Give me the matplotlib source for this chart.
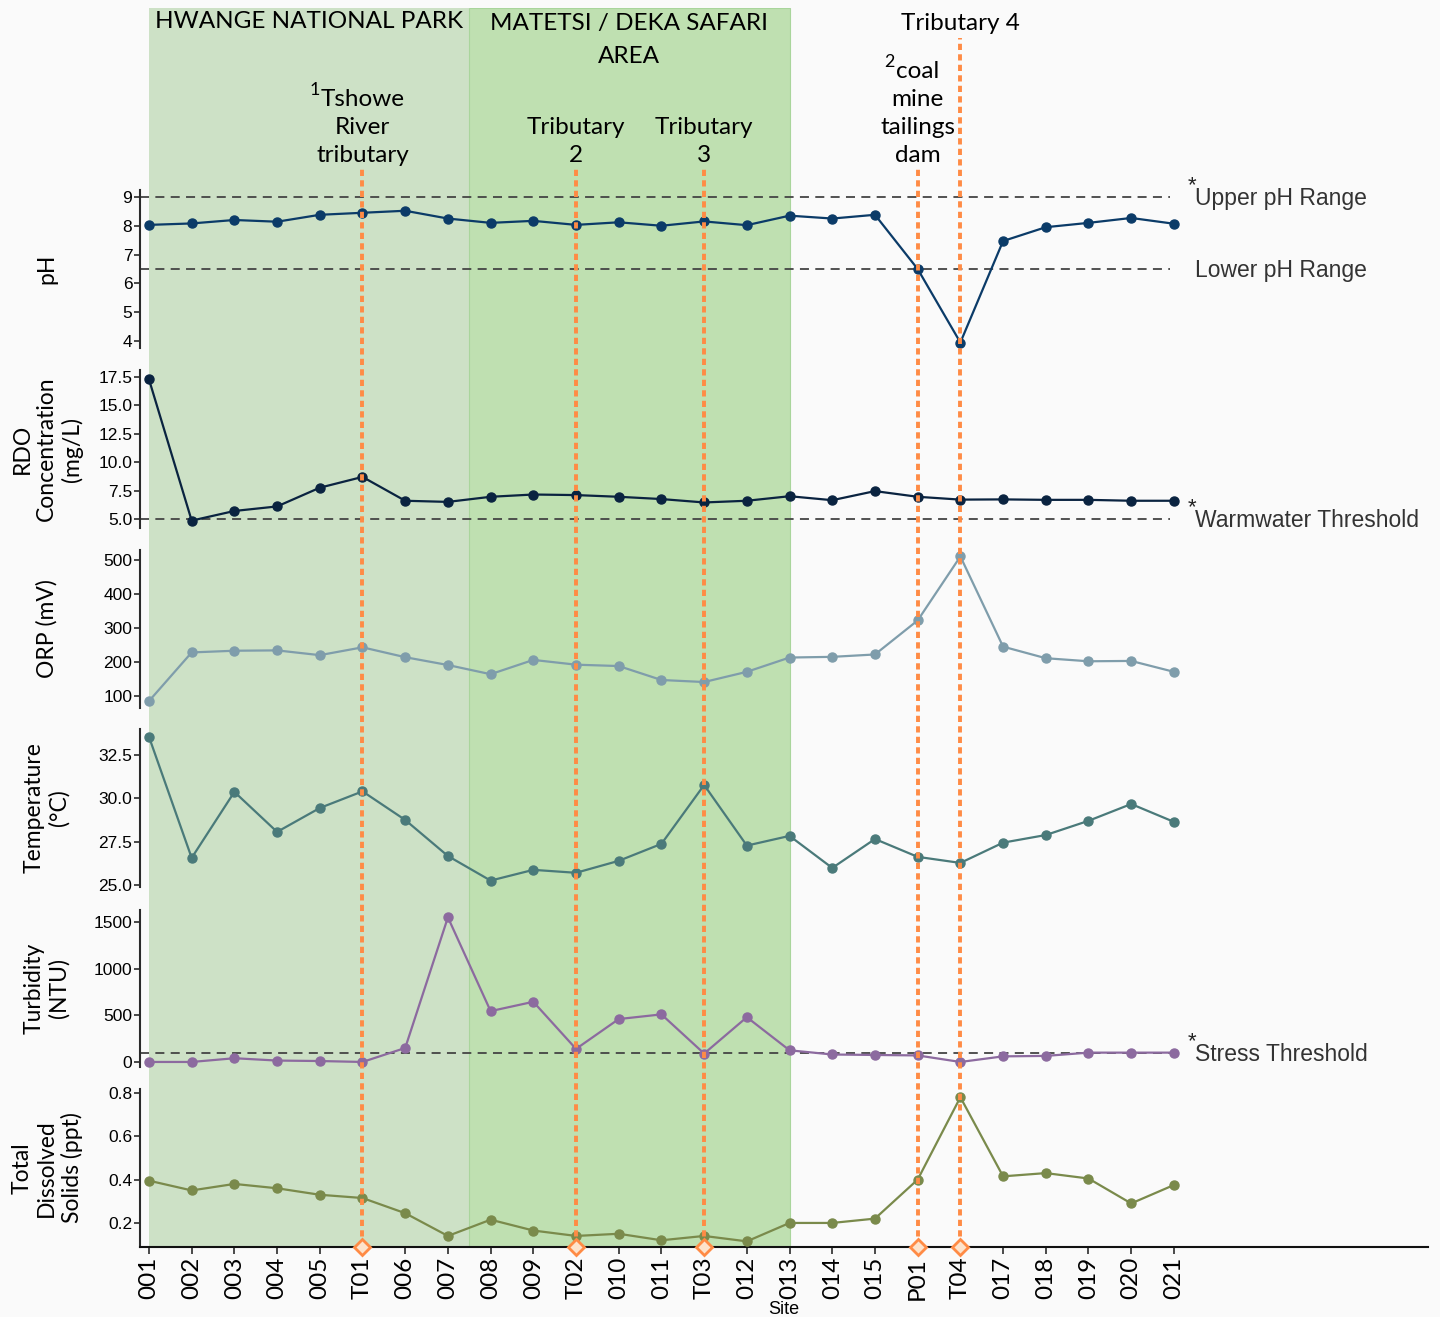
import matplotlib
matplotlib.use("Agg")
import matplotlib.pyplot as plt
import matplotlib.transforms as mtransforms

# ---- data -----------------------------------------------------------------
sites = ["001", "002", "003", "004", "005", "T01", "006", "007", "008", "009",
         "T02", "010", "011", "T03", "012", "013", "014", "015", "P01", "T04",
         "017", "018", "019", "020", "021"]

ph = [8.03, 8.08, 8.2, 8.14, 8.38, 8.45, 8.52, 8.25, 8.1, 8.17,
      8.03, 8.12, 8.0, 8.15, 8.02, 8.35, 8.25, 8.38, 6.5, 3.95,
      7.47, 7.95, 8.1, 8.27, 8.07]
rdo = [17.3, 4.85, 5.7, 6.1, 7.75, 8.7, 6.6, 6.5, 6.95, 7.15,
       7.1, 6.95, 6.75, 6.45, 6.6, 7.0, 6.65, 7.45, 6.95, 6.7,
       6.72, 6.68, 6.68, 6.6, 6.6]
orp = [85, 228, 233, 234, 220, 243, 214, 191, 164, 206,
       192, 188, 147, 141, 171, 213, 215, 222, 322, 510,
       245, 211, 202, 203, 171]
temp = [33.55, 26.56, 30.37, 28.06, 29.44, 30.4, 28.75, 26.67, 25.25, 25.87,
        25.7, 26.39, 27.37, 30.77, 27.27, 27.83, 25.98, 27.65, 26.62, 26.27,
        27.44, 27.88, 28.7, 29.67, 28.64]
turbidity = [0, 0, 40, 15, 10, 0, 150, 1550, 545, 645,
             140, 460, 510, 90, 480, 125, 80, 75, 70, 0,
             60, 65, 100, 100, 100]
tds = [0.395, 0.35, 0.38, 0.36, 0.33, 0.315, 0.245, 0.14, 0.215, 0.165,
       0.14, 0.15, 0.12, 0.14, 0.115, 0.2, 0.2, 0.22, 0.4, 0.78,
       0.415, 0.43, 0.405, 0.29, 0.375]

ph_limits = [9, 6.5]
rdo_limit = 5.0
turbidity_limit = 100

# tributaries / inputs marked with vertical lines
marked_sites = ["T01", "T02", "T03", "P01", "T04"]
site_notes = {"T01": ["Tshowe", "River", "tributary"],
              "T02": ["Tributary", "2"],
              "T03": ["Tributary", "3"],
              "P01": ["coal", "mine", "tailings", "dam"],
              "T04": ["Tributary 4"]}
note_refs = {"T01": "1", "P01": "2"}

# ---- styling ----------------------------------------------------------------
BG = "#fafafa"
ORANGE = "#ff8b45"
DARK = "#2b2b2b"
HEAD_FONT = ["Lato", "DejaVu Sans"]
TICK_FONT = ["Liberation Sans", "DejaVu Sans"]

W, H = 1440, 1317
fig = plt.figure(figsize=(W / 100, H / 100), dpi=100, facecolor=BG)

x = list(range(len(sites)))
XLIM = (-0.21, 29.95)
LEFT, RIGHT = 140, 1428


def fy(pix):
    return 1 - pix / H


def rect(top, bottom):
    return [LEFT / W, fy(bottom), (RIGHT - LEFT) / W, (bottom - top) / H]


# background with the two shaded park areas
bg = fig.add_axes(rect(8, 1247))
bg.set_xlim(XLIM)
bg.set_ylim(0, 1)
bg.axis("off")
bg.axvspan(0, 7.5, color="#cde1c6", lw=0)
bg.axvspan(7.5, 15, facecolor="#bfe0b1", edgecolor="#a9d59c", lw=0.8)

panels = [
    (ph, "#0b3b68", "pH", (3.76, 9.24), [4, 5, 6, 7, 8, 9], "{:.0f}", 190, 348),
    (rdo, "#0a2340", "RDO\nConcentration\n(mg/L)", (4.2, 18.12),
     [5, 7.5, 10, 12.5, 15, 17.5], "{:.1f}", 370, 528),
    (orp, "#7f9dab", "ORP (mV)", (64.7, 529), [100, 200, 300, 400, 500], "{:.0f}", 550, 708),
    (temp, "#4a7a7a", "Temperature\n(°C)", (24.88, 34.0), [25, 27.5, 30, 32.5], "{:.1f}", 729, 887),
    (turbidity, "#8c6a9f", "Turbidity\n(NTU)", (-54, 1629), [0, 500, 1000, 1500], "{:.0f}", 910, 1067),
    (tds, "#7a8a4b", "Total\nDissolved\nSolids (ppt)", (0.089, 0.818),
     [0.2, 0.4, 0.6, 0.8], "{:.1f}", 1089, 1247),
]

axes = []
for vals, color, label, ylim, yticks, fmt, top, bottom in panels:
    ax = fig.add_axes(rect(top, bottom))
    ax.patch.set_alpha(0)
    ax.set_xlim(XLIM)
    ax.set_ylim(ylim)
    ax.plot(x, vals, "-o", color=color, lw=1.6, ms=6.5, zorder=3)
    for s in ["top", "right", "bottom"]:
        ax.spines[s].set_visible(False)
    ax.spines["left"].set_color(DARK)
    ax.spines["left"].set_linewidth(1.5)
    ax.set_yticks(yticks)
    ax.set_yticklabels([fmt.format(v) for v in yticks], family=TICK_FONT, fontsize=12.5)
    ax.tick_params(axis="y", length=4, width=1.2, color=DARK, pad=1.5)
    ax.set_xticks([])
    ax.set_ylabel(label, family=HEAD_FONT, fontsize=16.5, va="center",
                  linespacing=1.2)
    ax.yaxis.set_label_coords((47 - LEFT) / (RIGHT - LEFT), 0.5)
    axes.append(ax)

ax_ph, ax_rdo, ax_orp, ax_temp, ax_turb, ax_tds = axes

# threshold lines and their labels
dash = dict(color="#444444", lw=1.3, ls=(0, (5, 3.5)), zorder=2)
ax_ph.hlines(ph_limits, XLIM[0], 23.9, **dash)
ax_rdo.hlines([rdo_limit], XLIM[0], 23.9, **dash)
ax_turb.hlines([turbidity_limit], XLIM[0], 23.9, **dash)

lab = dict(family=TICK_FONT, fontsize=16.5, color="#333333", va="center", ha="left",
           clip_on=False)
for ax, txt, yv, star in [(ax_ph, "Upper pH Range", ph_limits[0], True),
                          (ax_ph, "Lower pH Range", ph_limits[1], False),
                          (ax_rdo, "Warmwater Threshold", rdo_limit, True),
                          (ax_turb, "Stress Threshold", turbidity_limit, True)]:
    ax.annotate(txt, (24.5, yv), xytext=(0, -2), textcoords="offset pixels",
                annotation_clip=False, **lab)
    if star:
        ax.annotate("*", (24.5, yv), xytext=(-3, 11), textcoords="offset pixels",
                    fontsize=16, color="#222222", ha="center", va="center",
                    family=TICK_FONT, annotation_clip=False)

# bottom axis
ax_tds.spines["bottom"].set_visible(True)
ax_tds.spines["bottom"].set_color("#111111")
ax_tds.spines["bottom"].set_linewidth(1.5)
ax_tds.set_xticks(x)
ax_tds.set_xticklabels(sites, rotation=90, family=HEAD_FONT, fontsize=17.5)
ax_tds.tick_params(axis="x", length=5, width=1.2, color=DARK, pad=2)
ax_tds.set_xlabel("Site", family=TICK_FONT, fontsize=13, labelpad=1)

# overlay: orange marker lines for tributaries / tailings dam
ov = fig.add_axes(rect(8, 1247))
ov.patch.set_alpha(0)
ov.axis("off")
ov.set_xlim(XLIM)
ov.set_ylim(0, 1)
mx = [sites.index(s) for s in marked_sites]
for s, i in zip(marked_sites, mx):
    top_pix = 38 if s == "T04" else 168
    ov.vlines(i, 0, (1247 - top_pix) / (1247 - 8), color=ORANGE, lw=2.8,
              ls=(0, (1.6, 1.1)), zorder=5)
ov.plot(mx, [0] * len(mx), "D", ms=8, mfc="#fde3cc", mec=ORANGE, mew=2,
        clip_on=False, zorder=6)

# site notes, one text per line (last line sits at 155 px from the top)
tr = mtransforms.blended_transform_factory(ov.transData, fig.transFigure)
note = dict(family=HEAD_FONT, fontsize=17.5, ha="center", va="center", transform=tr)
for s, lines in site_notes.items():
    last = 24 if s == "T04" else 155
    first = last - 28 * (len(lines) - 1)
    texts = [ov.text(sites.index(s), fy(first + 28 * k), ln, **note)
             for k, ln in enumerate(lines)]
    if s in note_refs:
        ov.annotate(note_refs[s], (0, 0.92), xycoords=texts[0], xytext=(-1, 0),
                    textcoords="offset pixels", family=HEAD_FONT, fontsize=13,
                    ha="right", va="center")

head = dict(family=HEAD_FONT, fontsize=17.5, ha="center", va="center",
            linespacing=1.75, transform=tr)
ov.text(3.75, fy(22), "HWANGE NATIONAL PARK", **head)
ov.text(11.25, fy(40), "MATETSI / DEKA SAFARI\nAREA", **head)

fig.savefig("out.png", dpi=100, facecolor=BG)
